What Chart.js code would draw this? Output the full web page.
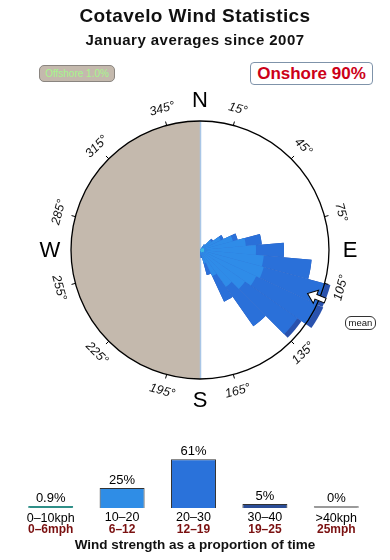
<!DOCTYPE html>
<html>
<head>
<meta charset="utf-8">
<script src="https://cdn.jsdelivr.net/npm/chart.js@4.4.1/dist/chart.umd.min.js"></script>
<style>
  html, body { margin:0; padding:0; background:#fff; }
  body { width:390px; height:560px; position:relative; overflow:hidden; font-family:"Liberation Sans", Arial, sans-serif; }
  #rose { position:absolute; left:0; top:0; width:390px; height:560px; }
  #bars { position:absolute; left:0; top:420px; width:390px; height:120px; }
  .t1 { position:absolute; left:0; width:390px; text-align:center; top:5px; font-weight:bold; font-size:19px; letter-spacing:0.4px; color:#111; }
  .t2 { position:absolute; left:0; width:390px; text-align:center; top:31px; font-weight:bold; font-size:15px; letter-spacing:0.45px; color:#111; }
  .off { position:absolute; left:39px; top:65px; width:74px; height:15px; background:#c4b9ad; border:1px solid #8a8580; border-radius:5px; color:#a6f58c; font-size:10px; line-height:15px; text-align:center; }
  .on { position:absolute; left:250px; top:62px; width:121px; height:21px; background:#fff; border:1px solid #7f93aa; border-radius:4px; color:#cc0018; font-weight:bold; font-size:17px; line-height:21px; text-align:center; }
  .mean { position:absolute; left:345px; top:316px; width:29px; height:12px; border:1px solid #333; border-radius:6px; font-size:9.5px; line-height:12px; text-align:center; color:#111; background:#fff; }
  .cap { position:absolute; left:0; width:390px; text-align:center; top:537px; font-weight:bold; font-size:13.5px; color:#111; }
</style>
</head>
<body>
<canvas id="rose" width="390" height="560"></canvas>
<canvas id="bars" width="390" height="120"></canvas>
<div class="t1">Cotavelo Wind Statistics</div>
<div class="t2">January averages since 2007</div>
<div class="off">Offshore 1.0%</div>
<div class="on">Onshore 90%</div>
<div class="mean">mean</div>
<div class="cap">Wind strength as a proportion of time</div>
<script>
// ---------- data ----------
// 36 direction sectors (degrees, clockwise from north)
const directions = [0,10,20,30,40,50,60,70,80,90,100,110,120,130,140,150,160,170,
                    180,190,200,210,220,230,240,250,260,270,280,290,300,310,320,330,340,350];
// radial length of each speed band per sector (chart units, outer circle = 129)
const band0to10  = [0,0,0,0,1,2,3,4,4,4,4,4,4,3,3,2,1,1, 0,0,0,0,0,0,0,0,0,0,0,0,0,0,0,0,0,0];
const band10to20 = [0,0,0,0,6,12,20,30,42,52,60,62,58,52,42,27,13,4, 0,0,0,0,0,0,0,0,0,0,0,0,0,0,0,0,0,0];
const band20to30 = [0,0,0,0,0,2,3,5,16,28,48,64,68,64,48,28,12,3, 0,0,0,0,0,0,0,0,0,0,0,0,0,0,0,0,0,0];
const band30to40 = [0,0,0,0,0,0,0,0,0,0,0,5,6,5,0,0,0,0, 0,0,0,0,0,0,0,0,0,0,0,0,0,0,0,0,0,0];
const roseMax = 129;
const degreeTicks = [15,45,75,105,135,165,195,225,255,285,315,345];
const compass = [['N',0],['E',90],['S',180],['W',270]];
const meanBearing = 112;

// speed distribution bar chart
const speedKph = ['0–10kph','10–20','20–30','30–40','>40kph'];
const speedMph = ['0–6mph','6–12','12–19','19–25','25mph'];
const speedShare = [0.9, 25, 61, 5, 0];
const speedShareLabels = ['0.9%','25%','61%','5%','0%'];

// ---------- rose ----------
function cumulative(arrs){
  const out = []; let run = directions.map(()=>0);
  arrs.forEach(a => { run = run.map((v,i)=>v + a[i]); out.push(run.slice()); });
  return out;
}
const cum = cumulative([band0to10, band10to20, band20to30, band30to40]);
const bandColors = ['#45cfe0', '#2f8ce8', '#2a70d9', '#2a52ad'];

const roseDecor = {
  id:'roseDecor',
  beforeDatasetsDraw(chart){
    const s = chart.scales.r, ctx = chart.ctx;
    const cx = s.xCenter, cy = s.yCenter, R = s.drawingArea;
    ctx.save();
    ctx.fillStyle = '#c4b9ad';
    ctx.beginPath();
    ctx.moveTo(cx, cy - R);
    ctx.arc(cx, cy, R, -Math.PI/2, Math.PI/2, true);
    ctx.closePath();
    ctx.fill();
    ctx.strokeStyle = '#a9c6e6';
    ctx.lineWidth = 1.5;
    ctx.beginPath(); ctx.moveTo(cx + 0.5, cy - R); ctx.lineTo(cx + 0.5, cy + R); ctx.stroke();
    ctx.restore();
  },
  afterDatasetsDraw(chart){
    const s = chart.scales.r, ctx = chart.ctx;
    const cx = s.xCenter, cy = s.yCenter, R = s.drawingArea;
    const pt = (b, r) => { const a = (b - 90) * Math.PI / 180; return [cx + r*Math.cos(a), cy + r*Math.sin(a)]; };
    ctx.save();
    // outer circle
    ctx.strokeStyle = '#000'; ctx.lineWidth = 1.3;
    ctx.beginPath(); ctx.arc(cx, cy, R, 0, Math.PI*2); ctx.stroke();
    // degree ticks and labels
    ctx.lineWidth = 1;
    ctx.fillStyle = '#111';
    ctx.font = 'italic 12.5px "Liberation Sans", Arial, sans-serif';
    ctx.textAlign = 'center'; ctx.textBaseline = 'middle';
    degreeTicks.forEach(b => {
      const p1 = pt(b, R), p2 = pt(b, R + 4);
      ctx.beginPath(); ctx.moveTo(p1[0], p1[1]); ctx.lineTo(p2[0], p2[1]); ctx.stroke();
      const p = pt(b, R + 17);
      let rot = b < 90 ? b : (b < 270 ? b - 180 : b - 360);
      ctx.save(); ctx.translate(p[0], p[1]); ctx.rotate(rot * Math.PI/180);
      ctx.fillText(b + '°', 0, 0);
      ctx.restore();
    });
    // compass letters
    ctx.font = '22px "Liberation Sans", Arial, sans-serif';
    ctx.fillStyle = '#000';
    compass.forEach(([t, b]) => { const p = pt(b, R + 21); ctx.fillText(t, p[0], p[1] + 1); });
    // mean arrow (pointing toward centre)
    const a = (meanBearing - 90) * Math.PI / 180;
    ctx.translate(...pt(meanBearing, R - 13));
    ctx.rotate(a + Math.PI);
    ctx.beginPath();
    ctx.moveTo(0, 0); ctx.lineTo(-9, -7); ctx.lineTo(-9, -2.5); ctx.lineTo(-19, -2.5);
    ctx.lineTo(-19, 2.5); ctx.lineTo(-9, 2.5); ctx.lineTo(-9, 7); ctx.closePath();
    ctx.fillStyle = '#fff'; ctx.fill();
    ctx.strokeStyle = '#000'; ctx.lineWidth = 1; ctx.stroke();
    ctx.restore();
  }
};

new Chart(document.getElementById('rose'), {
  type:'polarArea',
  data:{
    labels: directions.map(d => d + '°'),
    datasets: cum.map((vals, i) => ({
      label: ['0-10','10-20','20-30','30-40'][i],
      data: vals,
      backgroundColor: bandColors[i],
      borderWidth: 0
    }))
  },
  options:{
    responsive:false, animation:false, devicePixelRatio:1,
    layout:{ padding:{ left:71, right:61, top:121, bottom:181 } },
    plugins:{ legend:{display:false}, tooltip:{enabled:false} },
    scales:{ r:{ min:0, max:roseMax, startAngle:-5,
      grid:{display:false}, angleLines:{display:false},
      ticks:{display:false}, pointLabels:{display:false} } }
  },
  plugins:[roseDecor]
});

// ---------- bars ----------
const barLabels = {
  id:'barLabels',
  afterDatasetsDraw(chart){
    const ctx = chart.ctx, meta = chart.getDatasetMeta(0), x = chart.scales.x;
    const base = chart.chartArea.bottom;
    ctx.save();
    ctx.textAlign = 'center'; ctx.textBaseline = 'middle';
    ctx.font = '13px "Liberation Sans", Arial, sans-serif';
    ctx.fillStyle = '#000';
    meta.data.forEach((el, i) => ctx.fillText(speedShareLabels[i], el.x, Math.min(el.y, base - 1) - 8));
    speedKph.forEach((t, i) => {
      const px = x.getPixelForValue(i);
      ctx.font = '12.5px "Liberation Sans", Arial, sans-serif'; ctx.fillStyle = '#000';
      ctx.fillText(t, px, base + (i === 0 || i === 4 ? 11 : 10));
      ctx.font = 'bold 12px "Liberation Sans", Arial, sans-serif'; ctx.fillStyle = '#7a1010';
      ctx.fillText(speedMph[i], px, base + 22);
    });
    ctx.restore();
  }
};

new Chart(document.getElementById('bars'), {
  type:'bar',
  data:{ labels: speedKph,
    datasets:[{ data: speedShare,
      backgroundColor:['#2f8f88','#2f8de6','#2a72da','#2b4d96','#9a9a9a'],
      borderColor:['#2f8f88','#333','#333','#333','#9a9a9a'],
      borderWidth:1, minBarLength:2,
      barPercentage:0.63, categoryPercentage:1 }] },
  options:{
    responsive:false, animation:false, devicePixelRatio:1,
    layout:{ padding:{ left:15, right:18, top:8, bottom:32 } },
    plugins:{ legend:{display:false}, tooltip:{enabled:false} },
    scales:{
      y:{ display:false, min:0, max:100 },
      x:{ display:false }
    }
  },
  plugins:[barLabels]
});
</script>
</body>
</html>
